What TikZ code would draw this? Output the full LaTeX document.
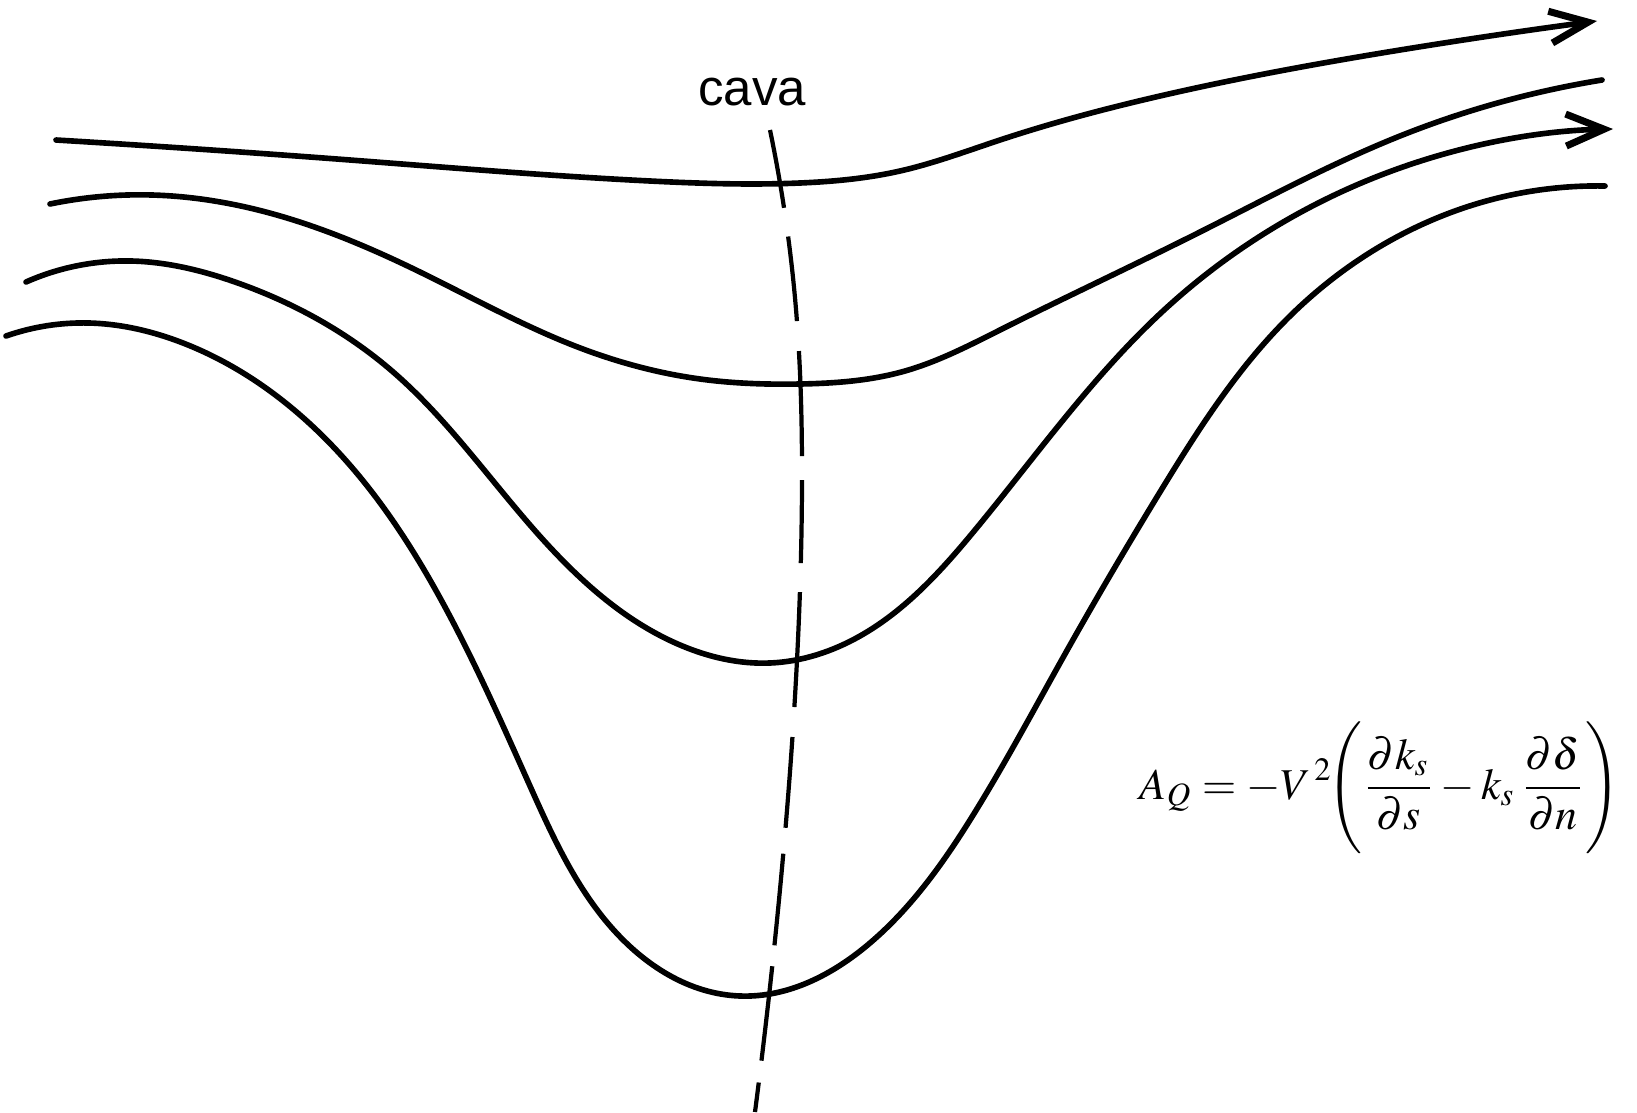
\documentclass[tikz,border=0pt]{standalone}
\usepackage{fontspec}
\usepackage{mathptmx}
\usepackage{graphicx}
\newfontfamily\labelfont{Liberation Sans}
\usetikzlibrary{arrows.meta,hobby}
\tikzset{
  streamline/.style={use Hobby shortcut, line width=1.6pt, line cap=round, line join=round},
  flowarrow/.style={-{Straight Barb[length=3.8mm, width=3.2mm, line width=2pt]}},
  axisline/.style={use Hobby shortcut, line width=1.2pt, line cap=butt,
    dash pattern={on 0.79cm off 0.29cm on 0.85cm off 0.30cm on 1.05cm off 0.24cm on 0.83cm off 0.29cm on 1.15cm off 0.30cm on 0.91cm off 0.26cm on 0.92cm off 0.21cm on 0.95cm off 0.22cm on 0.5cm off 0.1cm}},
  lbl/.style={font=\labelfont\fontsize{14.5}{17}\selectfont, inner sep=0pt}
}
\begin{document}
\begin{tikzpicture}[x=0.01cm, y=-0.01cm]
\useasboundingbox (0,0) rectangle (1637,1112);
% streamline 1 (top, with arrow)
\draw[streamline, flowarrow] (56,140) .. (350,160) .. (650,181) .. (800,183)
  .. (900,171) .. (1000,140) .. (1160,96) .. (1400,50) .. (1597,21);
% streamline 2
\draw[streamline] (50,204) .. (152,195) .. (262,211) .. (420,272) .. (575,346)
  .. (700,379) .. (800,384) .. (905,371) .. (1000,330) .. (1200,232)
  .. (1400,136) .. (1602,80);
% streamline 3 (with arrow)
\draw[streamline, flowarrow] (26,282) .. (131,261) .. (235,282) .. (392,371)
  .. (530,525) .. (680,645) .. (770,663) .. (860,636) .. (975,530)
  .. (1163,311) .. (1381,175) .. (1613,129);
% streamline 4
\draw[streamline] (6,336) .. (89,323) .. (183,343) .. (340,454) .. (445,607)
  .. (530,786) .. (611,927) .. (740,996) .. (870,943) .. (975,812)
  .. (1065,654) .. (1160,492) .. (1290,316) .. (1490,200) .. (1605,186);
% trough axis (dashed)
\draw[axisline] (770,130) .. (797,322) .. (802,470) .. (797,660) .. (778,910)
  .. (755,1112);
\node[lbl] (cava) at (752,92) {cava};
\node[inner sep=0pt] (formula) at (1380,788)
  {\resizebox{4.8cm}{!}{$\displaystyle A_Q = -V^{\,2}\!\Biggl(\frac{\partial k_s}{\partial s}-k_s\,\frac{\partial \delta}{\partial n}\Biggr)$}};
\end{tikzpicture}
\end{document}
